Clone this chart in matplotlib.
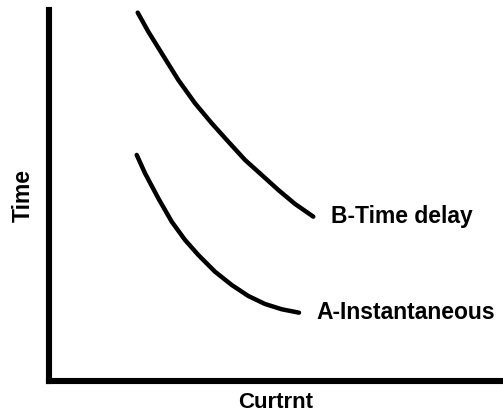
import matplotlib.pyplot as plt

plt.rcParams['font.family'] = ['Liberation Sans', 'DejaVu Sans']

# arbitrary units (0-10 on both axes)
current_b = [1.954, 2.187, 2.482, 2.848, 3.216, 3.584, 3.949, 4.317, 4.685, 5.051, 5.419, 5.822]
time_b = [9.927, 9.415, 8.833, 8.113, 7.485, 6.946, 6.450, 5.957, 5.553, 5.148, 4.771, 4.429]
current_a = [1.932, 2.115, 2.407, 2.703, 2.996, 3.289, 3.656, 4.024, 4.390, 4.758, 5.126, 5.507]
time_a = [6.092, 5.598, 4.925, 4.294, 3.801, 3.396, 2.946, 2.588, 2.291, 2.075, 1.933, 1.841]
labels = ['B-Time delay', 'A-Instantaneous']

fig = plt.figure(figsize=(5.03, 4.13), dpi=100)
ax = fig.add_axes([0.0974, 0.0775, 0.9026, 0.8985])

for x, y, lab in [(current_b, time_b, labels[0]), (current_a, time_a, labels[1])]:
    ax.plot(x, y, color='black', linewidth=3.2, solid_capstyle='round',
            solid_joinstyle='round', clip_on=False)
    ax.text(x[-1] + 0.38, y[-1], lab, fontsize=16.5, fontweight='bold',
            ha='left', va='center')

ax.set_xlim(0, 10)
ax.set_ylim(0, 10)
ax.set_xticks([])
ax.set_yticks([])
for side in ['top', 'right']:
    ax.spines[side].set_visible(False)
for side in ['left', 'bottom']:
    ax.spines[side].set_linewidth(4.4)
    ax.spines[side].set_capstyle('projecting')

ax.set_xlabel('Curtrnt', fontsize=16, fontweight='bold', labelpad=8)
ax.set_ylabel('Time', fontsize=16.5, fontweight='bold', labelpad=10)

fig.savefig('out.png', dpi=100)
